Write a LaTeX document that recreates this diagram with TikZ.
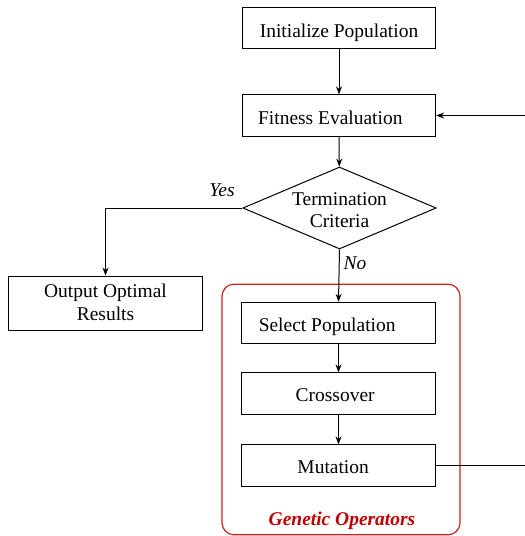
\documentclass[tikz,border=0pt]{standalone}
\usepackage{fontspec}
\setmainfont{Liberation Serif}
\usetikzlibrary{shapes.geometric,arrows.meta,positioning}
\definecolor{gored}{RGB}{208,32,32}
\definecolor{gotext}{RGB}{192,0,0}
\newcommand{\dn}[2][-3.5pt]{\raisebox{#1}[\height][\depth]{#2}}
\begin{document}
\begin{tikzpicture}[x=0.75pt,y=-0.75pt,
  every node/.style={font=\fontsize{14.6}{17}\selectfont},
  box/.style={draw,line width=0.75pt,minimum width=145pt,minimum height=31pt,inner sep=0pt},
  conn/.style={line width=0.75pt,-{Stealth[length=6pt,width=4.5pt]}},
  plain/.style={line width=0.75pt}]
\useasboundingbox (0,0) rectangle (525,536);
\node[box] (init) at (339,28) {\dn{Initialize Population}};
\node[box] (fit) at (339,115.5) {\dn[-1.5pt]{Fitness Evaluation}\kern13pt};
\node[draw,diamond,line width=0.75pt,minimum width=145pt,minimum height=61.5pt,inner sep=0pt] (term) at (339.5,208) {};
\node[align=center,inner sep=0pt] (termtxt) at (339.5,210) {Termination\\Criteria};
\node[box,minimum height=40.5pt] (out) at (105.5,303) {\dn[-1pt]{\begin{tabular}{@{}c@{}}Output Optimal\\Results\end{tabular}}};
\node[draw=gored,line width=0.9pt,rounded corners=9pt,minimum width=178.5pt,minimum height=188pt,inner sep=0pt] (grp) at (341,409.5) {};
\node[box] (sel) at (338.5,323) {\dn[-3pt]{Select Population}\kern17pt};
\node[box] (cross) at (338.5,393.5) {\dn[-1.5pt]{Crossover}\kern5pt};
\node[box] (mut) at (338.5,465.5) {\dn[-1pt]{Mutation}\kern8pt};
\node[text=gotext,font=\fontsize{14.6}{17}\selectfont\bfseries\itshape] (glabel) at (342,521) {Genetic Operators};
\node[font=\fontsize{14.6}{17}\selectfont\itshape] (yes) at (222,190) {Yes};
\node[font=\fontsize{14.6}{17}\selectfont\itshape] (no) at (355,263) {No};
\coordinate (rin) at (525,115.5);
\coordinate (rout) at (525,465.5);
\draw[conn] (init) -- (fit);
\draw[conn] (fit) -- (term);
\draw[conn] (term.west) -| (out.north);
\draw[conn] (term.south) -- (sel.north);
\draw[conn] (sel) -- (cross);
\draw[conn] (cross) -- (mut);
\draw[plain] (mut.east) -- (rout);
\draw[conn] (rin) -- (fit.east);
\end{tikzpicture}
\end{document}
